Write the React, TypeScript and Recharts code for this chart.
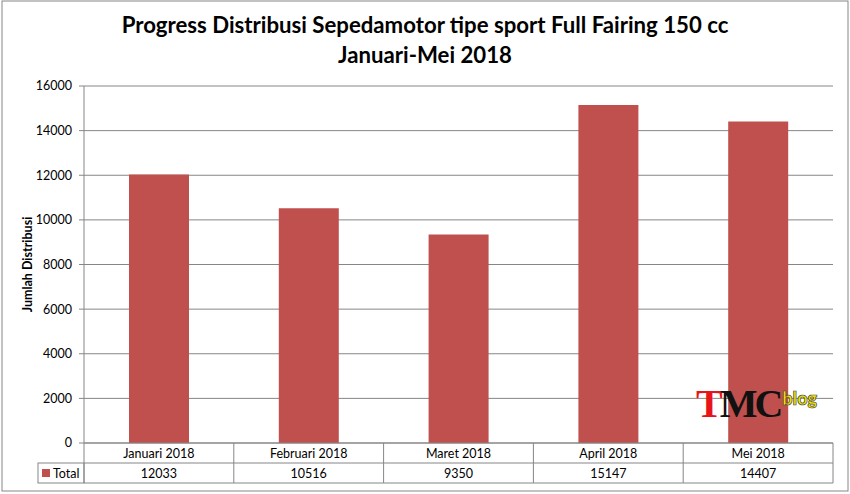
import React from "react";
import { BarChart, Bar, XAxis, YAxis, CartesianGrid, Label } from "recharts";

const categories = ["Januari 2018", "Februari 2018", "Maret 2018", "April 2018", "Mei 2018"];
const totals = [12033, 10516, 9350, 15147, 14407];
const yTicks = [0, 2000, 4000, 6000, 8000, 10000, 12000, 14000, 16000];
const seriesName = "Total";
const titleLine1 = "Progress Distribusi Sepedamotor tipe sport Full Fairing 150 cc";
const titleLine2 = "Januari-Mei 2018";

const data = categories.map((c, i) => ({ name: c, total: totals[i] }));

const W = 850;
const H = 494;
const TOP = 86;
const LEFT = 84;
const RIGHT = 17;
const BOTTOM = 51;
const PLOT_W = W - LEFT - RIGHT;
const BW = PLOT_W / categories.length;
const AXIS_Y = H - BOTTOM;
const ROW = 20;
const LINE = "#868686";
const BAR = "#C0504D";
const FONT = "Lato, 'Open Sans', sans-serif";
const FS = 12.5;

const TableTick = (props: any) => {
  const { x, payload, index } = props;
  const i = categories.indexOf(payload.value);
  const x0 = x - BW / 2;
  const x1 = x + BW / 2;
  const y0 = AXIS_Y;
  return (
    <g>
      {index === 0 && (
        <g>
          <line x1={x0} y1={y0} x2={x0} y2={y0 + 2 * ROW} stroke={LINE} />
          <rect x={38} y={y0 + ROW} width={x0 - 38} height={ROW} fill="none" stroke={LINE} />
          <rect x={42} y={y0 + ROW + 6} width={8} height={8} fill={BAR} />
          <text x={53} y={y0 + ROW + 14.5} fontSize={FS} fontFamily={FONT} fill="#000">
            {seriesName}
          </text>
        </g>
      )}
      <line x1={x1} y1={y0} x2={x1} y2={y0 + 2 * ROW} stroke={LINE} />
      <line x1={x0} y1={y0 + ROW} x2={x1} y2={y0 + ROW} stroke={LINE} />
      <line x1={x0} y1={y0 + 2 * ROW} x2={x1} y2={y0 + 2 * ROW} stroke={LINE} />
      <text x={x} y={y0 + 14.5} textAnchor="middle" fontSize={FS} fontFamily={FONT} fill="#000">
        {payload.value}
      </text>
      <text x={x} y={y0 + ROW + 14.5} textAnchor="middle" fontSize={FS} fontFamily={FONT} fill="#000">
        {i >= 0 ? totals[i] : ""}
      </text>
    </g>
  );
};

export default function App() {
  return (
    <div style={{ position: "absolute", left: 0, top: 0, width: W, height: H, background: "#fff" }}>
      <BarChart
        width={W}
        height={H}
        data={data}
        margin={{ top: TOP, right: RIGHT, bottom: 0, left: 0 }}
        barSize={60}
      >
        <rect x={2} y={1} width={846} height={490} fill="none" stroke={LINE} />
        <text x={425} y={33} textAnchor="middle" fontSize={22.2} fontWeight="bold" fontFamily={FONT} fill="#000">
          {titleLine1}
        </text>
        <text x={425} y={63} textAnchor="middle" fontSize={22.2} fontWeight="bold" fontFamily={FONT} fill="#000">
          {titleLine2}
        </text>
        <CartesianGrid vertical={false} stroke={LINE} strokeWidth={1} />
        <XAxis
          dataKey="name"
          height={BOTTOM}
          axisLine={{ stroke: LINE }}
          tickLine={false}
          tickSize={0}
          tickMargin={0}
          interval={0}
          tick={<TableTick />}
        />
        <YAxis
          width={LEFT}
          domain={[0, 16000]}
          ticks={yTicks}
          interval={0}
          axisLine={{ stroke: LINE }}
          tickLine={{ stroke: LINE }}
          tickSize={5}
          tickMargin={7}
          tick={{ fill: "#000", fontSize: FS, fontFamily: FONT }}
        >
          <Label
            value="Jumlah Distribusi"
            angle={-90}
            position="insideLeft"
            offset={28}
            style={{ fontSize: 12.5, fontWeight: "bold", fontFamily: FONT, fill: "#000", textAnchor: "middle" }}
          />
        </YAxis>
        <Bar dataKey="total" name={seriesName} fill={BAR} isAnimationActive={false} />
      </BarChart>
      <div
        style={{
          position: "absolute",
          left: 696,
          top: 384,
          fontFamily: "'Liberation Serif', serif",
          fontWeight: "bold",
          fontSize: 40,
          lineHeight: "40px",
          letterSpacing: -3,
          whiteSpace: "nowrap",
        }}
      >
        <span style={{ color: "#e8141c" }}>T</span>
        <span style={{ color: "#111" }}>MC</span>
        <span
          style={{
            fontFamily: FONT,
            fontSize: 18,
            fontWeight: 900,
            color: "#f2e600",
            WebkitTextStroke: "0.7px #444",
            letterSpacing: 0,
            position: "relative",
            top: -12,
            left: 2,
          }}
        >
          blog
        </span>
      </div>
    </div>
  );
}
